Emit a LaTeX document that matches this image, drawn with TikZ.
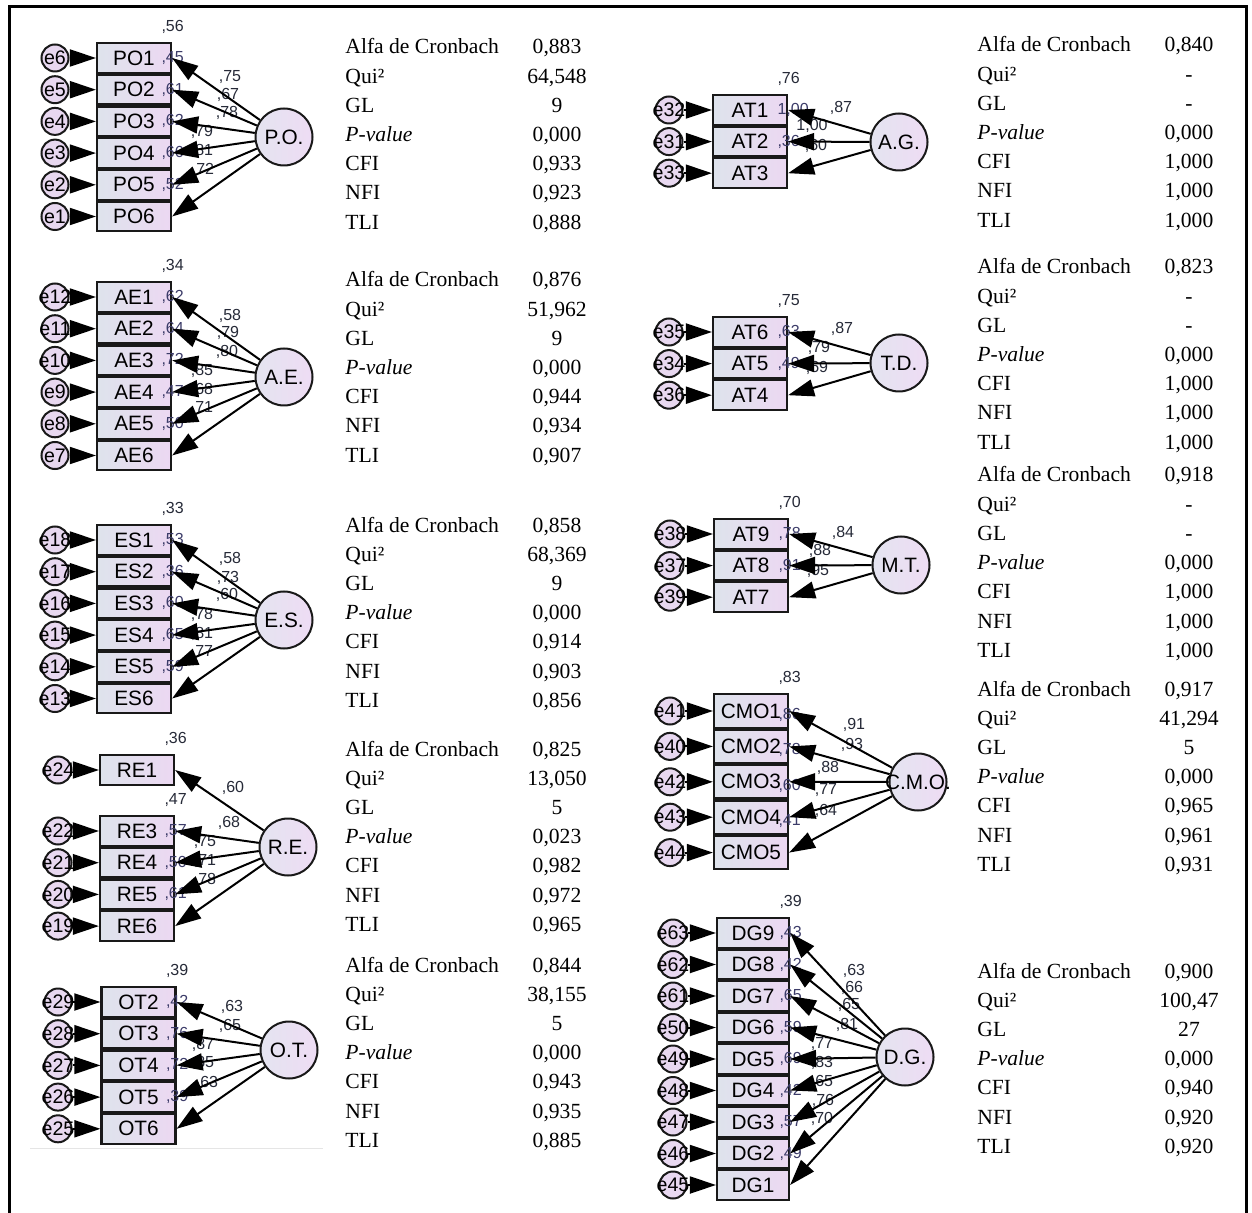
\documentclass[tikz,border=0pt]{standalone}
\usepackage{fontspec}
\setmainfont{Liberation Serif}
\setsansfont{Liberation Sans}
\usetikzlibrary{arrows.meta,positioning}

\definecolor{obsleft}{RGB}{222,227,236}
\definecolor{obsright}{RGB}{236,216,242}
\definecolor{errfill}{RGB}{232,216,240}
\definecolor{latleft}{RGB}{228,228,240}
\definecolor{latright}{RGB}{238,220,244}
\definecolor{coefcol}{RGB}{38,42,56}
\definecolor{rsqcol}{RGB}{60,60,105}

\begin{document}
\begin{tikzpicture}[
    x=0.5pt, y=-0.5pt,
    obs/.style={rectangle, draw=black!90, line width=1.1pt, minimum width=37pt, minimum height=14.85pt, inner sep=0pt, left color=obsleft, right color=obsright, font=\sffamily\fontsize{10.4}{12}\selectfont},
    err/.style={circle, draw=black!90, line width=1pt, minimum size=13.5pt, inner sep=0pt, fill=errfill, font=\sffamily\fontsize{9.8}{11}\selectfont},
    lat/.style={circle, draw=black!90, line width=1pt, minimum size=28.5pt, inner sep=0pt, left color=latleft, right color=latright, font=\sffamily\fontsize{10.4}{12}\selectfont},
    arrow/.style={-{Triangle[length=13pt, width=8.5pt]}, line width=1pt},
    coef/.style={font=\sffamily\fontsize{8}{9}\selectfont, text=coefcol, inner sep=0pt},
    rsq/.style={font=\sffamily\fontsize{8}{9}\selectfont, text=rsqcol, inner sep=0pt, anchor=west, xshift=-5.5pt},
    rtop/.style={coef, anchor=west, xshift=-5.5pt, yshift=7.5pt},
    stat/.style={font=\fontsize{10.8}{13}\selectfont, anchor=base west, inner sep=0pt},
    val/.style={font=\fontsize{10.8}{13}\selectfont, anchor=base, inner sep=0pt}
]
\useasboundingbox (0,0) rectangle (1252,1213);
\fill[white] (0,0) rectangle (1252,1213);
\draw[line width=1.5pt] (9,1213) -- (9,7) -- (1246,7) -- (1246,1213);
\draw[black!10] (30,1148) -- (323,1148);

% P.O.
\node[lat] (po) at (284,137) {\makebox[0pt]{P.O.}};
\foreach \e [count=\k] in {e6,e5,e4,e3,e2,e1} {
  \node[obs] (po\k) at (134,{58+31.7*(\k-1)}) {PO\k};
  \node[err] (\e) at (55,{58+31.7*(\k-1)}) {\makebox[0pt]{\e}};
  \draw[arrow] (\e) -- (po\k);
}
\node[rtop] (po-r) at (po1.north east) {,56};
\foreach \rr [count=\k] in {45,61,62,66,52}
  \node[rsq] (po-r\k) at (po\k.east) {,\rr};
\foreach \vv/\x/\y [count=\k] in {75/230/77, 67/228/95, 78/227/113, 79/202/132, 81/202/151, 72/203/170}
  \node[coef] (po-l\k) at (\x,\y) {,\vv};
\foreach \k in {1,...,6}
  \draw[arrow] (po) -- (po\k.east);

% A.E.
\node[lat] (ae) at (284,377) {\makebox[0pt]{A.E.}};
\foreach \e [count=\k] in {e12,e11,e10,e9,e8,e7} {
  \node[obs] (ae\k) at (134,{297+31.7*(\k-1)}) {AE\k};
  \node[err] (\e) at (55,{297+31.7*(\k-1)}) {\makebox[0pt]{\e}};
  \draw[arrow] (\e) -- (ae\k);
}
\node[rtop] (ae-r) at (ae1.north east) {,34};
\foreach \rr [count=\k] in {62,64,72,47,50}
  \node[rsq] (ae-r\k) at (ae\k.east) {,\rr};
\foreach \vv/\x/\y [count=\k] in {58/230/316, 79/228/333, 80/227/352, 85/202/371, 68/202/390, 71/202/408}
  \node[coef] (ae-l\k) at (\x,\y) {,\vv};
\foreach \k in {1,...,6}
  \draw[arrow] (ae) -- (ae\k.east);

% E.S.
\node[lat] (es) at (284,620) {\makebox[0pt]{E.S.}};
\foreach \e [count=\k] in {e18,e17,e16,e15,e14,e13} {
  \node[obs] (es\k) at (134,{540+31.7*(\k-1)}) {ES\k};
  \node[err] (\e) at (55,{540+31.7*(\k-1)}) {\makebox[0pt]{\e}};
  \draw[arrow] (\e) -- (es\k);
}
\node[rtop] (es-r) at (es1.north east) {,33};
\foreach \rr [count=\k] in {53,36,60,65,59}
  \node[rsq] (es-r\k) at (es\k.east) {,\rr};
\foreach \vv/\x/\y [count=\k] in {58/230/559, 73/228/578, 60/227/595, 78/202/615, 81/202/634, 77/202/652}
  \node[coef] (es-l\k) at (\x,\y) {,\vv};
\foreach \k in {1,...,6}
  \draw[arrow] (es) -- (es\k.east);

% R.E.
\node[lat] (re) at (288,847) {\makebox[0pt]{R.E.}};
\node[obs] (re1) at (137,770) {RE1};
\node[err] (e24) at (58,770) {\makebox[0pt]{e24}};
\draw[arrow] (e24) -- (re1);
\foreach \ix/\e [count=\k] in {3/e22,4/e21,5/e20,6/e19} {
  \node[obs] (re\ix) at (137,{831+31.7*(\k-1)}) {RE\ix};
  \node[err] (\e) at (58,{831+31.7*(\k-1)}) {\makebox[0pt]{\e}};
  \draw[arrow] (\e) -- (re\ix);
}
\node[rtop] (re-r1) at (re1.north east) {,36};
\node[rtop] (re-r2) at (re3.north east) {,47};
\foreach \ix/\rr in {3/57,4/50,5/61}
  \node[rsq] (re-r\ix) at (re\ix.east) {,\rr};
\foreach \vv/\x/\y [count=\k] in {60/233/788, 68/229/823, 75/205/842, 71/205/861, 78/205/880}
  \node[coef] (re-l\k) at (\x,\y) {,\vv};
\foreach \ix in {1,3,4,5,6}
  \draw[arrow] (re) -- (re\ix.east);

% O.T.
\node[lat] (ot) at (289,1050) {\makebox[0pt]{O.T.}};
\foreach \ix/\e [count=\k] in {2/e29,3/e28,4/e27,5/e26,6/e25} {
  \node[obs] (ot\ix) at (138.5,{1002+31.7*(\k-1)}) {OT\ix};
  \node[err] (\e) at (58,{1002+31.7*(\k-1)}) {\makebox[0pt]{\e}};
  \draw[arrow] (\e) -- (ot\ix);
}
\node[rtop] (ot-r) at (ot2.north east) {,39};
\foreach \ix/\rr in {2/42,3/76,4/72,5/39}
  \node[rsq] (ot-r\ix) at (ot\ix.east) {,\rr};
\foreach \vv/\x/\y [count=\k] in {63/232/1007, 65/230/1026, 87/203/1045, 85/203/1063, 63/207/1083}
  \node[coef] (ot-l\k) at (\x,\y) {,\vv};
\foreach \ix in {2,...,6}
  \draw[arrow] (ot) -- (ot\ix.east);

% A.G.
\node[lat] (ag) at (899,142) {\makebox[0pt]{A.G.}};
\foreach \e [count=\k] in {e32,e31,e33} {
  \node[obs] (at\k) at (750,{110+31.6*(\k-1)}) {AT\k};
  \node[err] (\e) at (669,{110+31.6*(\k-1)}) {\makebox[0pt]{\e}};
  \draw[arrow] (\e) -- (at\k);
}
\node[rtop] (ag-r) at (at1.north east) {,76};
\node[rsq] (ag-r1) at (at1.east) {1,00};
\node[rsq] (ag-r2) at (at2.east) {,36};
\node[coef] (ag-l1) at (841,108) {,87};
\node[coef] (ag-l2) at (812,126) {1,00};
\node[coef] (ag-l3) at (816,146) {,60};
\foreach \k in {1,2,3}
  \draw[arrow] (ag) -- (at\k.east);

% T.D.
\node[lat] (td) at (899,363) {\makebox[0pt]{T.D.}};
\foreach \ix/\e [count=\k] in {6/e35,5/e34,4/e36} {
  \node[obs] (at\ix) at (750,{332+31.6*(\k-1)}) {AT\ix};
  \node[err] (\e) at (669,{332+31.6*(\k-1)}) {\makebox[0pt]{\e}};
  \draw[arrow] (\e) -- (at\ix);
}
\node[rtop] (td-r) at (at6.north east) {,75};
\foreach \ix/\rr in {6/63,5/49}
  \node[rsq] (td-r\ix) at (at\ix.east) {,\rr};
\foreach \vv/\x/\y [count=\k] in {87/842/329, 79/819/348, 69/817/368}
  \node[coef] (td-l\k) at (\x,\y) {,\vv};
\foreach \ix in {6,5,4}
  \draw[arrow] (td) -- (at\ix.east);

% M.T.
\node[lat] (mt) at (901,565) {\makebox[0pt]{M.T.}};
\foreach \ix/\e [count=\k] in {9/e38,8/e37,7/e39} {
  \node[obs] (at\ix) at (751,{534+31.6*(\k-1)}) {AT\ix};
  \node[err] (\e) at (670,{534+31.6*(\k-1)}) {\makebox[0pt]{\e}};
  \draw[arrow] (\e) -- (at\ix);
}
\node[rtop] (mt-r) at (at9.north east) {,70};
\foreach \ix/\rr in {9/78,8/91}
  \node[rsq] (mt-r\ix) at (at\ix.east) {,\rr};
\foreach \vv/\x/\y [count=\k] in {84/843/533, 88/820/551, 95/818/571}
  \node[coef] (mt-l\k) at (\x,\y) {,\vv};
\foreach \ix in {9,8,7}
  \draw[arrow] (mt) -- (at\ix.east);

% C.M.O.
\node[lat] (cmo) at (918,782) {\makebox[0pt]{C.M.O.}};
\foreach \e [count=\k] in {e41,e40,e42,e43,e44} {
  \node[obs, minimum height=16.7pt] (cmo\k) at (751,{711+35.4*(\k-1)}) {CMO\k};
  \node[err] (\e) at (670,{711+35.4*(\k-1)}) {\makebox[0pt]{\e}};
  \draw[arrow] (\e) -- (cmo\k);
}
\node[rtop] (cmo-r) at (cmo1.north east) {,83};
\foreach \rr [count=\k] in {86,78,60,41}
  \node[rsq] (cmo-r\k) at ([yshift=-2pt]cmo\k.east) {,\rr};
\foreach \vv/\x/\y [count=\k] in {91/854/725, 93/852/745, 88/828/768, 77/826/790, 64/826/811}
  \node[coef] (cmo-l\k) at (\x,\y) {,\vv};
\foreach \k in {1,...,5}
  \draw[arrow] (cmo) -- (cmo\k.east);

% D.G.
\node[lat] (dg) at (905,1057) {\makebox[0pt]{D.G.}};
\foreach \ix/\e [count=\k] in {9/e63,8/e62,7/e61,6/e50,5/e49,4/e48,3/e47,2/e46,1/e45} {
  \node[obs, minimum width=36pt, minimum height=14.75pt] (dg\ix) at (753,{933+31.5*(\k-1)}) {DG\ix};
  \node[err] (\e) at (673,{933+31.5*(\k-1)}) {\makebox[0pt]{\e}};
  \draw[arrow] (\e) -- (dg\ix);
}
\node[rtop] (dg-r) at (dg9.north east) {,39};
\foreach \ix/\rr in {9/43,8/42,7/65,6/59,5/69,4/42,3/57,2/49}
  \node[rsq] (dg-r\ix) at (dg\ix.east) {,\rr};
\foreach \vv/\x/\y [count=\k] in {63/854/971, 66/852/988, 65/849/1005, 81/847/1025, 77/822/1044, 83/822/1063, 65/822/1082, 76/823/1101, 70/822/1119}
  \node[coef] (dg-l\k) at (\x,\y) {,\vv};
\foreach \ix in {1,...,9}
  \draw[arrow] (dg) -- (dg\ix.east);

% fit statistics
\foreach \tx/\ty/\tn in {345/54/a, 345/287/b, 345/532/c, 345/756/d, 345/972/f, 977/52/g, 977/274/h, 977/482/i, 977/696/j, 977/978/k}
  \foreach \lab [count=\k] in {Alfa de Cronbach, Qui², GL, \textit{P-value}, CFI, NFI, TLI}
    \node[stat] (s\tn\k) at (\tx,{\ty+29.2*(\k-1)}) {\lab};

\foreach \val [count=\k] in {{0,883},{64,548},9,{0,000},{0,933},{0,923},{0,888}}
  \node[val] (va\k) at (557,{54+29.2*(\k-1)}) {\val};
\foreach \val [count=\k] in {{0,876},{51,962},9,{0,000},{0,944},{0,934},{0,907}}
  \node[val] (vb\k) at (557,{287+29.2*(\k-1)}) {\val};
\foreach \val [count=\k] in {{0,858},{68,369},9,{0,000},{0,914},{0,903},{0,856}}
  \node[val] (vc\k) at (557,{532+29.2*(\k-1)}) {\val};
\foreach \val [count=\k] in {{0,825},{13,050},5,{0,023},{0,982},{0,972},{0,965}}
  \node[val] (vd\k) at (557,{756+29.2*(\k-1)}) {\val};
\foreach \val [count=\k] in {{0,844},{38,155},5,{0,000},{0,943},{0,935},{0,885}}
  \node[val] (vf\k) at (557,{972+29.2*(\k-1)}) {\val};
\foreach \val [count=\k] in {{0,840},-,-,{0,000},{1,000},{1,000},{1,000}}
  \node[val] (vg\k) at (1189,{52+29.2*(\k-1)}) {\val};
\foreach \val [count=\k] in {{0,823},-,-,{0,000},{1,000},{1,000},{1,000}}
  \node[val] (vh\k) at (1189,{274+29.2*(\k-1)}) {\val};
\foreach \val [count=\k] in {{0,918},-,-,{0,000},{1,000},{1,000},{1,000}}
  \node[val] (vi\k) at (1189,{482+29.2*(\k-1)}) {\val};
\foreach \val [count=\k] in {{0,917},{41,294},5,{0,000},{0,965},{0,961},{0,931}}
  \node[val] (vj\k) at (1189,{696+29.2*(\k-1)}) {\val};
\foreach \val [count=\k] in {{0,900},{100,47},27,{0,000},{0,940},{0,920},{0,920}}
  \node[val] (vk\k) at (1189,{978+29.2*(\k-1)}) {\val};
\end{tikzpicture}
\end{document}
